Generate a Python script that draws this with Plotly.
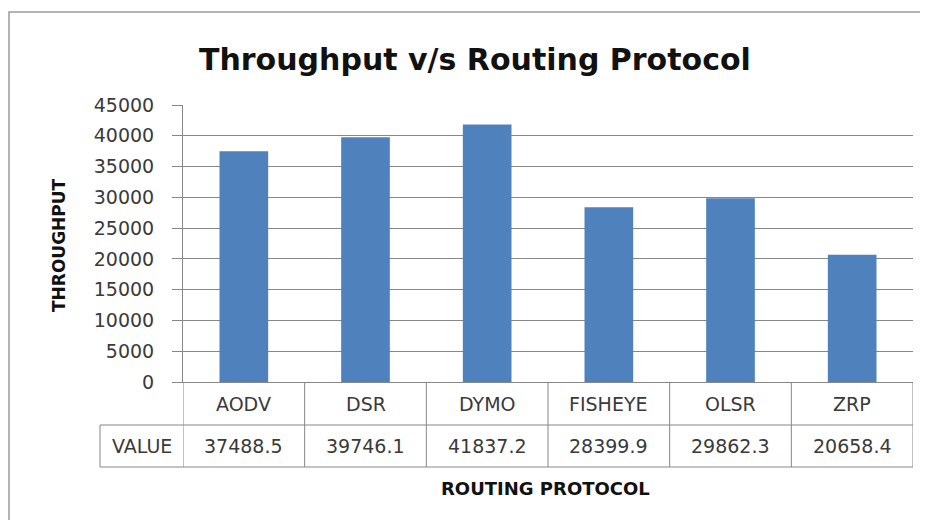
import plotly.graph_objects as go

# ---- data ----
protocols = ["AODV", "DSR", "DYMO", "FISHEYE", "OLSR", "ZRP"]
throughput = [37488.5, 39746.1, 41837.2, 28399.9, 29862.3, 20658.4]
value_labels = ["37488.5", "39746.1", "41837.2", "28399.9", "29862.3", "20658.4"]
y_ticks = [0, 5000, 10000, 15000, 20000, 25000, 30000, 35000, 40000, 45000]
row_label = "VALUE"
title_text = "Throughput v/s Routing Protocol"
x_title = "ROUTING PROTOCOL"
y_title = "THROUGHPUT"

# ---- layout geometry (window pixels; the page body adds an 8px offset) ----
OFF = 8
WIN_W, WIN_H = 928, 520
W, H = WIN_W - OFF, WIN_H - OFF
PLOT_L, PLOT_R, PLOT_T, PLOT_B = 183, 913, 105, 382  # window coords
L = PLOT_L - OFF
T = PLOT_T - OFF
R = W - (PLOT_R - OFF)
B = H - (PLOT_B - OFF)
PW, PH = PLOT_R - PLOT_L, PLOT_B - PLOT_T


def px(xp):
    return (xp - PLOT_L) / PW


def py(yp):
    return (PLOT_B - yp) / PH


GRID = "#878787"
TXT = "#3a3a3a"
FONT = "DejaVu Sans"
FS = 19

fig = go.Figure()
fig.add_trace(go.Bar(x=protocols, y=throughput, width=0.4,
                     marker=dict(color="#4F81BD", line=dict(width=0)),
                     hoverinfo="x+y"))

shapes = []
annotations = []

row1_bottom = py(425)
row2_bottom = py(467)
value_left = px(100)

for yb in (row1_bottom, row2_bottom):
    shapes.append(dict(type="line", xref="paper", yref="paper",
                       x0=value_left, x1=1, y0=yb, y1=yb,
                       line=dict(color=GRID, width=1)))
n = len(protocols)
for i in range(n + 1):
    xb = i - 0.5
    shapes.append(dict(type="line", xref="x", yref="paper",
                       x0=xb, x1=xb, y0=0, y1=row2_bottom,
                       line=dict(color=GRID, width=1)))
shapes.append(dict(type="line", xref="paper", yref="paper",
                   x0=value_left, x1=value_left, y0=row1_bottom, y1=row2_bottom,
                   line=dict(color=GRID, width=1)))
# outer chart frame (runs off the right and bottom edges)
shapes.append(dict(type="rect", xref="paper", yref="paper",
                   x0=px(9), x1=px(960), y0=py(12), y1=py(560),
                   line=dict(color="#9a9a9a", width=1.5), layer="below"))


def label(x, y, text, size, color, xref="paper", angle=0):
    annotations.append(dict(x=x, y=y, xref=xref, yref="paper", text=text,
                            showarrow=False, xanchor="center", yanchor="middle",
                            textangle=angle,
                            font=dict(family=FONT, size=size, color=color)))


for cat, val in zip(protocols, value_labels):
    label(cat, py(404), cat, FS, TXT, xref="x")
    label(cat, py(446), val, FS, TXT, xref="x")
label(px(141.5), py(446), row_label, FS, TXT)

label(px(475), py(59), "<b>" + title_text + "</b>", 30, "#111111")
label(px(545), py(488), "<b>" + x_title + "</b>", 18, "#111111")
label(px(59), py(245), "<b>" + y_title + "</b>", 17, "#111111", angle=-90)

fig.update_layout(
    width=W, height=H,
    margin=dict(l=L, r=R, t=T, b=B, pad=0),
    paper_bgcolor="white", plot_bgcolor="white",
    showlegend=False,
    shapes=shapes,
    annotations=annotations,
    xaxis=dict(range=[-0.5, n - 0.5], showticklabels=False, ticks="",
               showgrid=False, zeroline=False, showline=True,
               linecolor=GRID, linewidth=1, fixedrange=True),
    yaxis=dict(range=[0, 45000], tickvals=y_ticks,
               ticktext=[str(v) for v in y_ticks],
               showgrid=True, gridcolor=GRID, gridwidth=1,
               zeroline=False, showline=True, linecolor=GRID, linewidth=1,
               ticks="outside", ticklen=10, tickcolor=GRID, tickwidth=1,
               ticklabelstandoff=14,
               tickfont=dict(family=FONT, size=FS, color=TXT),
               fixedrange=True),
)

fig.write_html("out.html")
